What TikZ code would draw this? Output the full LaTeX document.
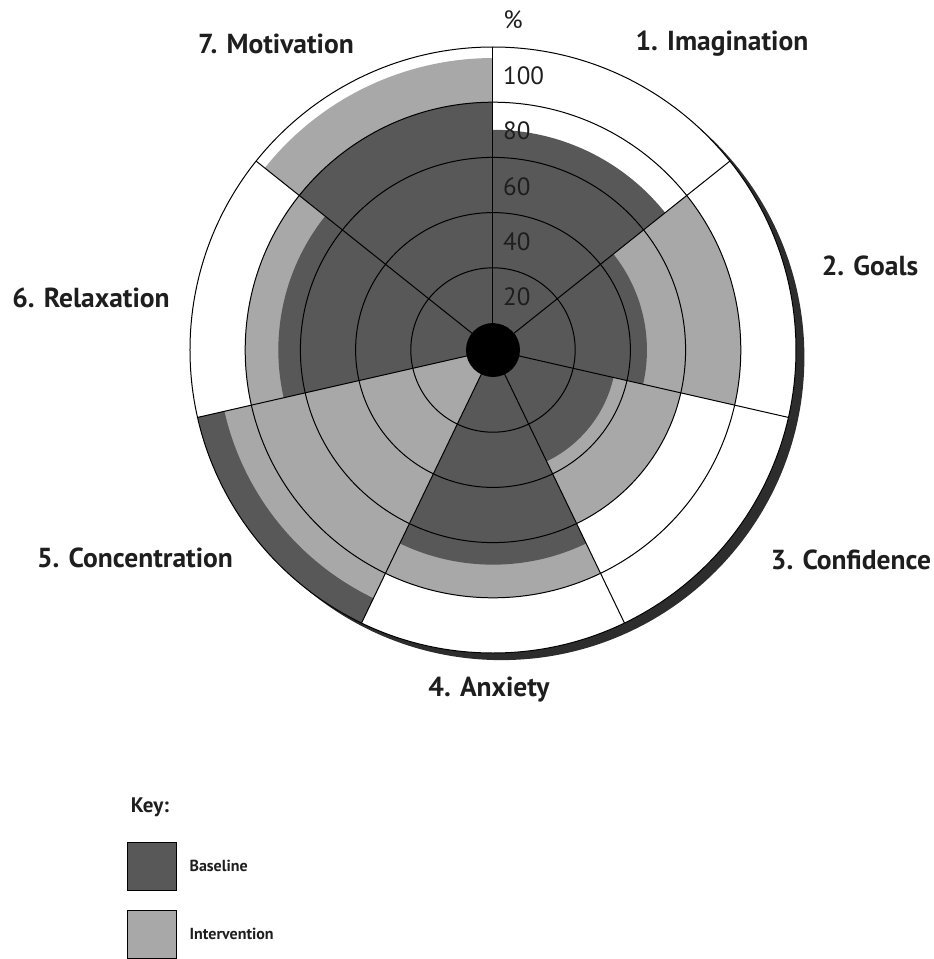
\documentclass[tikz,border=0pt]{standalone}
\usepackage{fontspec}
\setmainfont{PT Sans}
\usetikzlibrary{positioning}
\definecolor{BaseGrey}{RGB}{88,88,88}
\definecolor{InterGrey}{RGB}{168,168,168}
\definecolor{ShadowGrey}{RGB}{45,45,45}
\definecolor{LabelInk}{RGB}{30,30,30}

\begin{document}
\begin{tikzpicture}[x=1pt,y=1pt,
  ring/.style={black, line width=1pt},
  catlabel/.style={font=\fontsize{27.5}{30}\selectfont\bfseries, text=LabelInk, inner sep=0pt},
  scalelabel/.style={font=\fontsize{25}{28}\selectfont, text=LabelInk, anchor=west, inner sep=0pt},
  keybox/.style={draw=black, line width=0.8pt, minimum width=49pt, minimum height=48pt, inner sep=0pt},
  keytext/.style={font=\fontsize{16}{18}\selectfont\bfseries, text=LabelInk, inner sep=0pt}]
  \path[use as bounding box] (-493,-609) rectangle (441,350);
  % shadow and face of the chart
  \fill[ShadowGrey] (8.4,-7.1) circle (303);
  \fill[white] (0,0) circle (303);
  % sectors: number/baseline/intervention, larger value underneath
  \foreach \i/\b/\v in {1/70/0, 2/46/80, 3/35/60, 4/68/80, 5/100/90, 6/68/80, 7/80/96}{
    \pgfmathsetmacro{\sa}{90-(\i-1)*360/7}
    \pgfmathsetmacro{\ea}{90-\i*360/7}
    \pgfmathsetmacro{\rb}{27+2.76*\b}
    \pgfmathsetmacro{\rv}{27+2.76*\v}
    \ifdim\b pt>\v pt
      \fill[BaseGrey] (0,0) -- (\sa:\rb) arc[start angle=\sa, end angle=\ea, radius=\rb] -- cycle;
      \fill[InterGrey] (0,0) -- (\sa:\rv) arc[start angle=\sa, end angle=\ea, radius=\rv] -- cycle;
    \else
      \fill[InterGrey] (0,0) -- (\sa:\rv) arc[start angle=\sa, end angle=\ea, radius=\rv] -- cycle;
      \fill[BaseGrey] (0,0) -- (\sa:\rb) arc[start angle=\sa, end angle=\ea, radius=\rb] -- cycle;
    \fi
  }
  % rings and spokes
  \foreach \p in {20,40,60,80,100}{
    \draw[ring] (0,0) circle ({27+2.76*\p});
  }
  \foreach \k in {0,...,6}{
    \draw[ring] (0,0) -- ({90-\k*360/7}:303);
  }
  \fill[black] (0,0) circle (27);
  % scale
  \foreach \p in {20,40,60,80,100}{
    \node[scalelabel] (scale\p) at (10,{2.76*\p-2}) {\p};
  }
  \node[scalelabel, anchor=center] (pct) at (20,330) {\%};
  % categories
  \node[catlabel] (imagination) at (229,306) {1. Imagination};
  \node[catlabel] (goals) at (377,84) {2. Goals};
  \node[catlabel] (confidence) at (358,-210) {3. Confidence};
  \node[catlabel] (anxiety) at (-4,-340) {4. Anxiety};
  \node[catlabel] (concentration) at (-358,-208) {5. Concentration};
  \node[catlabel] (relaxation) at (-402,52) {6. Relaxation};
  \node[catlabel] (motivation) at (-217,306) {7. Motivation};
  % key
  \node[keytext, font=\fontsize{21}{24}\selectfont\bfseries] (key) at (-343,-457) {Key:};
  \node[keybox, fill=BaseGrey] (keybase) at (-341.5,-516) {};
  \node[keybox, fill=InterGrey] (keyinter) at (-341.5,-584) {};
  \node[keytext, right=13pt of keybase] (keybasetext) {Baseline};
  \node[keytext, right=13pt of keyinter] (keyintertext) {Intervention};
\end{tikzpicture}
\end{document}
